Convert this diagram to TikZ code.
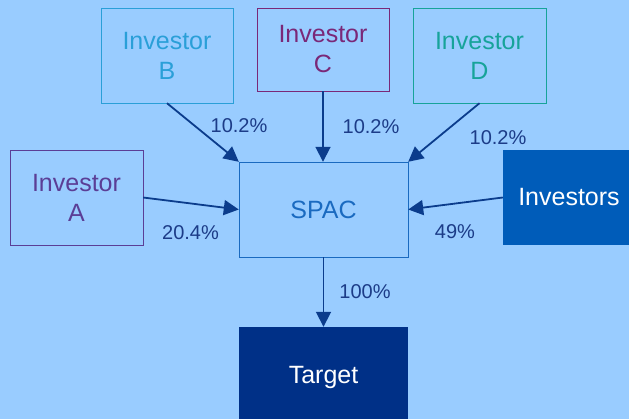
\documentclass[tikz,border=0pt]{standalone}
\usepackage{fontspec}
\setmainfont{Liberation Sans}
\usepackage{tikz}
\usepackage{xcolor}
\usetikzlibrary{arrows.meta}
\definecolor{bgblue}{HTML}{99CCFF}
\definecolor{colB}{HTML}{2A9FD8}
\definecolor{colC}{HTML}{7A2878}
\definecolor{colD}{HTML}{17A39A}
\definecolor{colA}{HTML}{5B3E96}
\definecolor{spacblue}{HTML}{1A6AC0}
\definecolor{invfill}{HTML}{005CB9}
\definecolor{targetfill}{HTML}{003087}
\definecolor{flowblue}{HTML}{0B3C8C}
\definecolor{pcttext}{HTML}{1C3C88}
\tikzset{
    investor-box/.style = {draw=#1, text=#1, thin, rectangle, inner sep=0pt, minimum width=132pt, minimum height=95pt, align=center, font=\fontsize{25}{30}\selectfont},
    solid-box/.style = {fill=#1, text=white, rectangle, inner sep=0pt, minimum height=95pt, align=center, font=\fontsize{25}{30}\selectfont},
    flow/.style = {draw=flowblue, line width=1.8pt, -{Triangle[length=15pt, width=15pt]}},
    pct/.style = {text=pcttext, inner sep=0pt, font=\fontsize{20}{24}\selectfont},
}
\begin{document}
\begin{tikzpicture}[x=1pt, y=-1pt]
\fill[bgblue] (0,0) rectangle (629,419);
\useasboundingbox (0,0) rectangle (629,419);
\clip (0,0) rectangle (629,419);
% investors on top and sides
\node[investor-box=colB] (invB) at (167,55.5) {Investor\\B};
\node[investor-box=colC, minimum height=83pt] (invC) at (323,49.5) {Investor\\C};
\node[investor-box=colD, minimum width=133pt] (invD) at (479.5,55.5) {Investor\\D};
\node[investor-box=colA, minimum width=133pt] (invA) at (76.5,197.5) {Investor\\A};
\node[solid-box=invfill, minimum width=132pt] (investors) at (569,197.5) {Investors};
% spac and target
\node[draw=spacblue, text=spacblue, thin, rectangle, minimum width=169pt, minimum height=95pt, font=\fontsize{25}{30}\selectfont] (spac) at (323.5,209.5) {SPAC};
\node[solid-box=targetfill, minimum width=169pt, minimum height=100pt] (target) at (323.5,377) {Target};
% holdings
\draw[flow] (invB.south) -- (spac.north west);
\draw[flow] (invC.south) -- (invC.south |- spac.north);
\draw[flow] (invD.south) -- (spac.north east);
\draw[flow] (invA.east) -- (spac.west);
\draw[flow] (investors.west) -- (spac.east);
\draw[flow] (spac.south) -- (target.north);
\node[pct] (pctB) at (239,126) {10.2\%};
\node[pct] (pctC) at (371,127) {10.2\%};
\node[pct] (pctD) at (498,138) {10.2\%};
\node[pct] (pctA) at (190.5,233) {20.4\%};
\node[pct] (pctI) at (455,232) {49\%};
\node[pct] (pctT) at (365,292) {100\%};
\end{tikzpicture}
\end{document}
